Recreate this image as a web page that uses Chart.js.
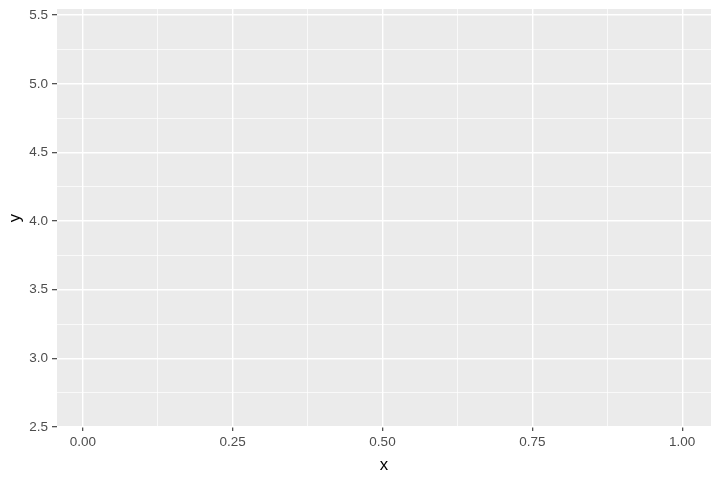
<!DOCTYPE html>
<html>
<head>
<meta charset="utf-8">
<script src="https://cdn.jsdelivr.net/npm/chart.js@4.4.0/dist/chart.umd.min.js"></script>
<style>
html,body{margin:0;padding:0;background:#fff;}
#wrap{width:720px;height:480px;position:relative;}
</style>
</head>
<body>
<div id="wrap"><canvas id="c"></canvas></div>
<script>
// Data (the plot is empty: no observations)
const xValues = [];
const yValues = [];
const xTicks = [0, 0.25, 0.5, 0.75, 1.0];
const xTickLabels = ["0.00", "0.25", "0.50", "0.75", "1.00"];
const yTicks = [2.5, 3.0, 3.5, 4.0, 4.5, 5.0, 5.5];
const yTickLabels = ["2.5", "3.0", "3.5", "4.0", "4.5", "5.0", "5.5"];
const xRange = [-0.043, 1.048];
const yRange = [2.5, 5.545];
const xTitle = "x";
const yTitle = "y";

function withMinor(major) {
  const out = [];
  for (let i = 0; i < major.length; i++) {
    out.push({value: major[i], major: true});
    if (i < major.length - 1) out.push({value: (major[i] + major[i + 1]) / 2, major: false});
  }
  return out;
}

const panelBg = {
  id: 'panelBg',
  beforeDraw(chart) {
    const a = chart.chartArea, ctx = chart.ctx;
    ctx.save();
    ctx.fillStyle = '#EBEBEB';
    ctx.fillRect(a.left, a.top, a.right - a.left, a.bottom - a.top);
    ctx.restore();
  }
};

const tickFont = {family: '"Liberation Sans", Arial, sans-serif', size: 13.5};
const titleFont = {family: '"Liberation Sans", Arial, sans-serif', size: 16.8};

new Chart(document.getElementById('c'), {
  type: 'scatter',
  data: {
    datasets: [{
      data: xValues.map((x, i) => ({x: x, y: yValues[i]})),
      pointRadius: 2, backgroundColor: '#000'
    }]
  },
  options: {
    responsive: true,
    maintainAspectRatio: false,
    animation: false,
    layout: {padding: {top: 9, right: 9, left: 0, bottom: 0}},
    plugins: {legend: {display: false}, tooltip: {enabled: false}},
    scales: {
      x: {
        type: 'linear',
        min: xRange[0], max: xRange[1],
        afterBuildTicks(s) { s.ticks = withMinor(xTicks); },
        afterFit(s) { s.height = 53; s.paddingLeft = 0; s.paddingRight = 0; },
        border: {display: false},
        grid: {
          drawTicks: true,
          tickLength: 4,
          color: '#FFFFFF',
          lineWidth: c => c.tick && c.tick.major ? 1.4 : 0.7,
          tickColor: c => c.tick && c.tick.major ? '#333333' : 'rgba(0,0,0,0)',
          tickWidth: 1.1
        },
        ticks: {
          autoSkip: false,
          maxRotation: 0,
          padding: 3,
          color: '#4D4D4D',
          font: tickFont,
          callback: function (v) {
            const k = xTicks.indexOf(v);
            return k >= 0 ? xTickLabels[k] : '';
          }
        },
        title: {display: true, text: xTitle, color: '#000', font: titleFont, padding: {top: 0, bottom: 5}}
      },
      y: {
        type: 'linear',
        min: yRange[0], max: yRange[1],
        afterBuildTicks(s) { s.ticks = withMinor(yTicks); },
        afterFit(s) { s.width = 57; s.paddingTop = 0; s.paddingBottom = 0; },
        border: {display: false},
        grid: {
          drawTicks: true,
          tickLength: 5,
          color: '#FFFFFF',
          lineWidth: c => c.tick && c.tick.major ? 1.4 : 0.7,
          tickColor: c => c.tick && c.tick.major ? '#333333' : 'rgba(0,0,0,0)',
          tickWidth: 1.1
        },
        ticks: {
          autoSkip: false,
          padding: 4,
          color: '#4D4D4D',
          font: tickFont,
          callback: function (v) {
            const k = yTicks.indexOf(v);
            return k >= 0 ? yTickLabels[k] : '';
          }
        },
        title: {display: true, text: yTitle, color: '#000', font: titleFont, padding: {top: 5.5, bottom: 0}}
      }
    }
  },
  plugins: [panelBg]
});
</script>
</body>
</html>
